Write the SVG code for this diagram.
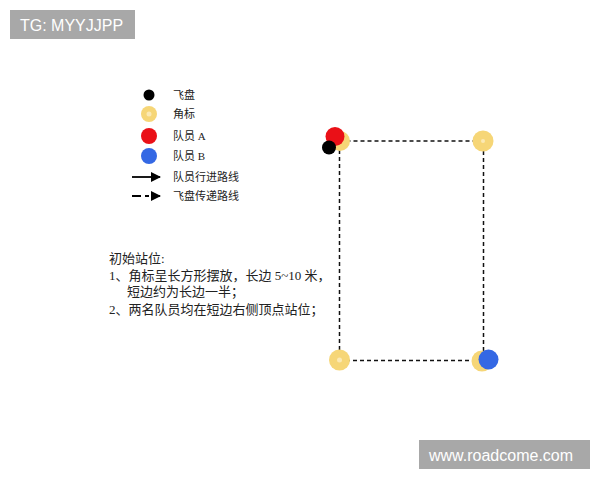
<svg xmlns="http://www.w3.org/2000/svg" width="600" height="480" viewBox="0 0 600 480">
<style>
.bg{fill:#fff}
.wm{fill:#a8a8a8}
.wmt{fill:#fff;font-family:"Liberation Sans",Arial,sans-serif;font-size:16px}
.lt{font-family:"Liberation Serif","Noto Sans CJK SC",serif;font-size:11px;fill:#222}
.bt{font-family:"Liberation Serif","Noto Sans CJK SC",serif;font-size:13px;fill:#222}
.cone{fill:#f6d677}
.conec{fill:#fbe9b4}
.red{fill:#ea1017}
.blue{fill:#3468e4}
.disc{fill:#000}
.dash{fill:none;stroke:#111;stroke-width:1.5;stroke-dasharray:4,3}
.arr{stroke:#000;stroke-width:1.8;fill:none}
</style>
<defs>
<marker id="ah" viewBox="0 0 10 10" refX="9" refY="5" markerWidth="10" markerHeight="10" markerUnits="userSpaceOnUse" orient="auto">
<path d="M0,0 L10,5 L0,10 z" fill="#000"/>
</marker>
</defs>
<rect class="bg" x="0" y="0" width="600" height="480"/>

<g id="watermark-tg">
<rect class="wm" x="10" y="10" width="125" height="29"/>
<text class="wmt" x="20" y="31">TG: MYYJJPP</text>
</g>
<g id="watermark-site">
<rect class="wm" x="419" y="440" width="171" height="29"/>
<text class="wmt" x="429" y="461" font-size="16.5">www.roadcome.com</text>
</g>

<g id="legend">
<circle class="disc" cx="149" cy="95" r="5.5"/>
<text class="lt" x="173" y="99">飞盘</text>
<circle class="cone" cx="149" cy="114" r="8"/>
<circle class="conec" cx="149" cy="114" r="2.5"/>
<text class="lt" x="173" y="118">角标</text>
<circle class="red" cx="149" cy="136" r="8"/>
<text class="lt" x="173" y="140">队员 A</text>
<circle class="blue" cx="149" cy="156" r="8"/>
<text class="lt" x="173" y="160">队员 B</text>
<line class="arr" x1="132" y1="177" x2="160" y2="177" marker-end="url(#ah)"/>
<text class="lt" x="173" y="181">队员行进路线</text>
<line class="arr" x1="132" y1="196" x2="149" y2="196" stroke-dasharray="9,4"/>
<line class="arr" x1="152" y1="196" x2="160" y2="196" marker-end="url(#ah)"/>
<text class="lt" x="173" y="200">飞盘传递路线</text>
</g>

<g id="description">
<text class="bt" x="109" y="263">初始站位:</text>
<text class="bt" x="109" y="280">1、角标呈长方形摆放，长边 5~10 米，</text>
<text class="bt" x="127" y="296">短边约为长边一半；</text>
<text class="bt" x="109" y="314">2、两名队员均在短边右侧顶点站位；</text>
</g>

<g id="connectors">
<rect class="dash" x="339.5" y="141" width="144" height="219.5"/>
</g>

<g id="cone-tl">
<circle class="cone" cx="340" cy="141" r="10"/>
</g>
<g id="cone-tr">
<circle class="cone" cx="483" cy="141" r="10.5"/>
<circle class="conec" cx="483" cy="141" r="2"/>
</g>
<g id="cone-bl">
<circle class="cone" cx="339.5" cy="360" r="10.5"/>
<circle class="conec" cx="339.5" cy="360" r="2.5"/>
</g>
<g id="cone-br">
<circle class="cone" cx="482" cy="361" r="10.5"/>
</g>
<g id="player-a">
<circle class="red" cx="335" cy="136.5" r="9.5"/>
</g>
<g id="disc">
<circle class="disc" cx="329" cy="147.5" r="7"/>
</g>
<g id="player-b">
<circle class="blue" cx="488.5" cy="359.5" r="10"/>
</g>
</svg>
